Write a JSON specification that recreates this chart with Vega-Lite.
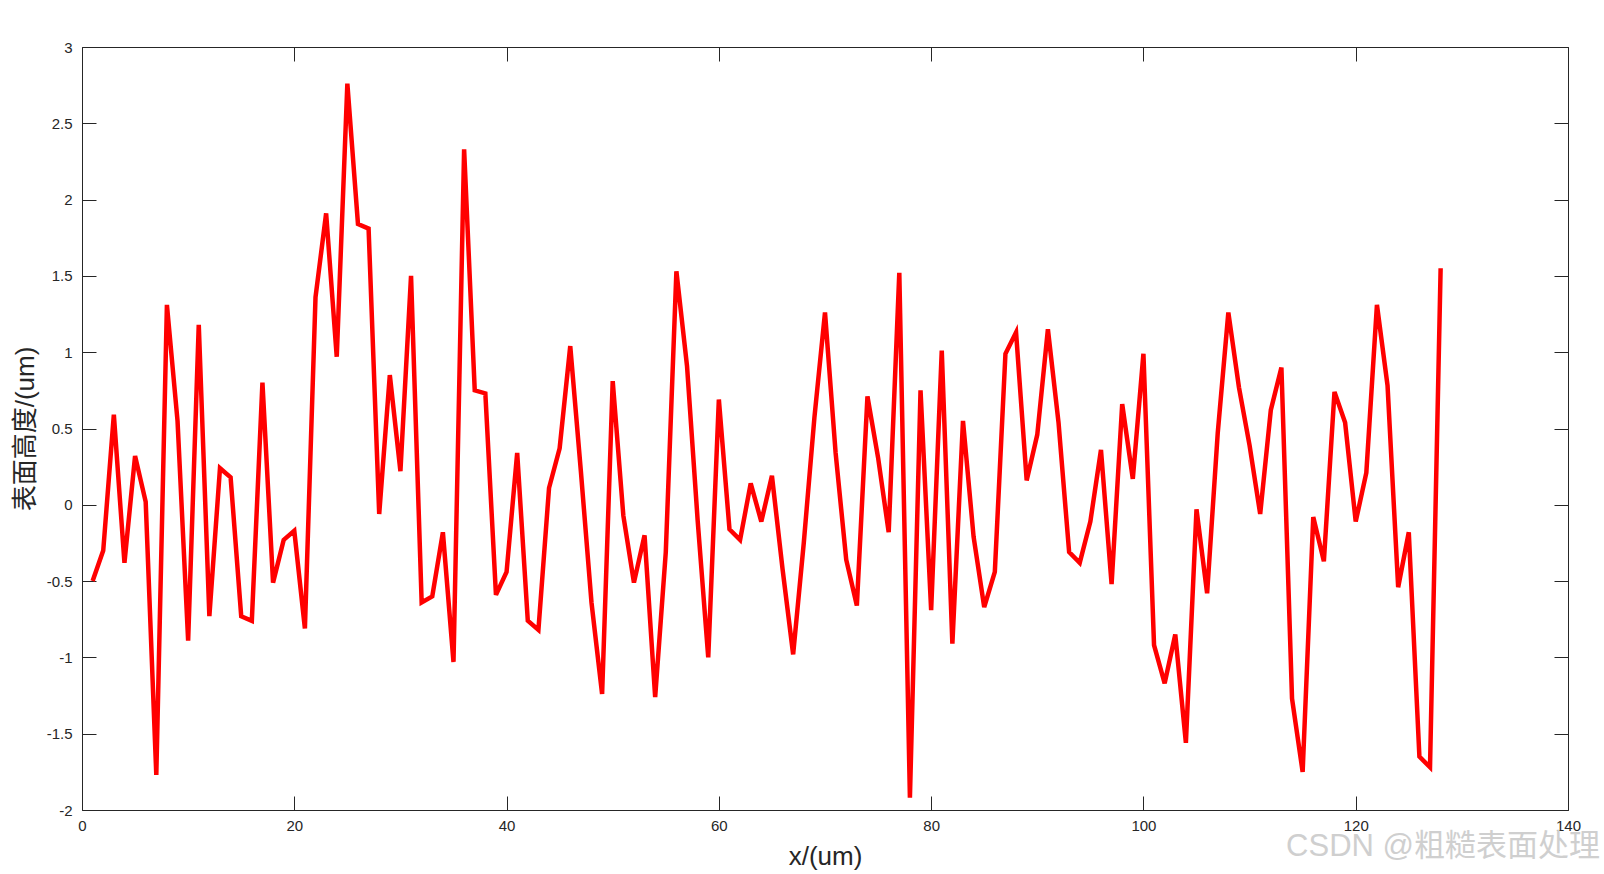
{
  "$schema": "https://vega.github.io/schema/vega-lite/v6.json",
  "autosize": {"type": "none"},
  "padding": {"left": 82, "top": 47, "right": 36, "bottom": 64},
  "width": 1486,
  "height": 763,
  "background": "white",
  "title": {
    "text": "CSDN @粗糙表面处理",
    "orient": "bottom",
    "anchor": "end",
    "frame": "group",
    "color": "#cfcfcf",
    "font": "Liberation Sans, Noto Sans CJK SC",
    "fontSize": 31,
    "fontWeight": "normal",
    "offset": 0,
    "dx": 32,
    "dy": -37
  },
  "config": {
    "view": {"stroke": "#262626", "strokeWidth": 1},
    "axis": {
      "domain": false,
      "grid": false,
      "tickColor": "#262626",
      "tickSize": -14,
      "tickWidth": 1,
      "labelColor": "#262626",
      "labelFont": "Liberation Sans",
      "labelFontSize": 15,
      "labelFlush": false,
      "titleFont": "Liberation Sans, Noto Sans CJK SC",
      "titleFontSize": 26,
      "titleFontWeight": "normal",
      "titleColor": "#262626"
    }
  },
  "data": {
    "values": [
      {"x": 1, "h": -0.50}, {"x": 2, "h": -0.30}, {"x": 3, "h": 0.59}, {"x": 4, "h": -0.38},
      {"x": 5, "h": 0.32}, {"x": 6, "h": 0.02}, {"x": 7, "h": -1.77}, {"x": 8, "h": 1.31},
      {"x": 9, "h": 0.55}, {"x": 10, "h": -0.89}, {"x": 11, "h": 1.18}, {"x": 12, "h": -0.73},
      {"x": 13, "h": 0.24}, {"x": 14, "h": 0.18}, {"x": 15, "h": -0.73}, {"x": 16, "h": -0.76},
      {"x": 17, "h": 0.80}, {"x": 18, "h": -0.51}, {"x": 19, "h": -0.23}, {"x": 20, "h": -0.17},
      {"x": 21, "h": -0.81}, {"x": 22, "h": 1.36}, {"x": 23, "h": 1.91}, {"x": 24, "h": 0.97},
      {"x": 25, "h": 2.76}, {"x": 26, "h": 1.84}, {"x": 27, "h": 1.81}, {"x": 28, "h": -0.06},
      {"x": 29, "h": 0.85}, {"x": 30, "h": 0.22}, {"x": 31, "h": 1.50}, {"x": 32, "h": -0.64},
      {"x": 33, "h": -0.60}, {"x": 34, "h": -0.18}, {"x": 35, "h": -1.03}, {"x": 36, "h": 2.33},
      {"x": 37, "h": 0.75}, {"x": 38, "h": 0.73}, {"x": 39, "h": -0.59}, {"x": 40, "h": -0.44},
      {"x": 41, "h": 0.34}, {"x": 42, "h": -0.76}, {"x": 43, "h": -0.82}, {"x": 44, "h": 0.11},
      {"x": 45, "h": 0.37}, {"x": 46, "h": 1.04}, {"x": 47, "h": 0.22}, {"x": 48, "h": -0.64},
      {"x": 49, "h": -1.24}, {"x": 50, "h": 0.81}, {"x": 51, "h": -0.07}, {"x": 52, "h": -0.51},
      {"x": 53, "h": -0.20}, {"x": 54, "h": -1.26}, {"x": 55, "h": -0.31}, {"x": 56, "h": 1.53},
      {"x": 57, "h": 0.91}, {"x": 58, "h": -0.10}, {"x": 59, "h": -1.00}, {"x": 60, "h": 0.69},
      {"x": 61, "h": -0.16}, {"x": 62, "h": -0.23}, {"x": 63, "h": 0.14}, {"x": 64, "h": -0.11},
      {"x": 65, "h": 0.19}, {"x": 66, "h": -0.42}, {"x": 67, "h": -0.98}, {"x": 68, "h": -0.25},
      {"x": 69, "h": 0.57}, {"x": 70, "h": 1.26}, {"x": 71, "h": 0.34}, {"x": 72, "h": -0.36},
      {"x": 73, "h": -0.66}, {"x": 74, "h": 0.71}, {"x": 75, "h": 0.31}, {"x": 76, "h": -0.18},
      {"x": 77, "h": 1.52}, {"x": 78, "h": -1.92}, {"x": 79, "h": 0.75}, {"x": 80, "h": -0.69},
      {"x": 81, "h": 1.01}, {"x": 82, "h": -0.91}, {"x": 83, "h": 0.55}, {"x": 84, "h": -0.21},
      {"x": 85, "h": -0.67}, {"x": 86, "h": -0.44}, {"x": 87, "h": 0.99}, {"x": 88, "h": 1.13},
      {"x": 89, "h": 0.16}, {"x": 90, "h": 0.46}, {"x": 91, "h": 1.15}, {"x": 92, "h": 0.54},
      {"x": 93, "h": -0.31}, {"x": 94, "h": -0.38}, {"x": 95, "h": -0.11}, {"x": 96, "h": 0.36},
      {"x": 97, "h": -0.52}, {"x": 98, "h": 0.66}, {"x": 99, "h": 0.17}, {"x": 100, "h": 0.99},
      {"x": 101, "h": -0.92}, {"x": 102, "h": -1.17}, {"x": 103, "h": -0.85}, {"x": 104, "h": -1.56},
      {"x": 105, "h": -0.03}, {"x": 106, "h": -0.58}, {"x": 107, "h": 0.47}, {"x": 108, "h": 1.26},
      {"x": 109, "h": 0.77}, {"x": 110, "h": 0.39}, {"x": 111, "h": -0.06}, {"x": 112, "h": 0.62},
      {"x": 113, "h": 0.90}, {"x": 114, "h": -1.27}, {"x": 115, "h": -1.75}, {"x": 116, "h": -0.08},
      {"x": 117, "h": -0.37}, {"x": 118, "h": 0.74}, {"x": 119, "h": 0.54}, {"x": 120, "h": -0.11},
      {"x": 121, "h": 0.21}, {"x": 122, "h": 1.31}, {"x": 123, "h": 0.78}, {"x": 124, "h": -0.54},
      {"x": 125, "h": -0.18}, {"x": 126, "h": -1.65}, {"x": 127, "h": -1.72}, {"x": 128, "h": 1.55}
    ]
  },
  "resolve": {"axis": {"x": "independent", "y": "independent"}},
  "layer": [
    {
      "mark": {"type": "line", "strokeOpacity": 0},
      "encoding": {
        "x": {
          "field": "x", "type": "quantitative",
          "scale": {"domain": [0, 140], "nice": false, "zero": false},
          "axis": {"orient": "top", "values": [0, 20, 40, 60, 80, 100, 120, 140], "labels": false, "title": null}
        },
        "y": {
          "field": "h", "type": "quantitative",
          "scale": {"domain": [-2, 3], "nice": false, "zero": false},
          "axis": {"orient": "right", "values": [-2, -1.5, -1, -0.5, 0, 0.5, 1, 1.5, 2, 2.5, 3], "labels": false, "title": null}
        }
      }
    },
    {
      "mark": {"type": "line", "color": "#ff0000", "strokeWidth": 4.5, "strokeJoin": "miter", "strokeMiterLimit": 4},
      "encoding": {
        "x": {
          "field": "x", "type": "quantitative",
          "scale": {"domain": [0, 140], "nice": false, "zero": false},
          "axis": {
            "orient": "bottom",
            "values": [0, 20, 40, 60, 80, 100, 120, 140],
            "labelPadding": 22,
            "labelExpr": "'' + datum.value",
            "title": "x/(um)",
            "titlePadding": 10
          }
        },
        "y": {
          "field": "h", "type": "quantitative",
          "scale": {"domain": [-2, 3], "nice": false, "zero": false},
          "axis": {
            "orient": "left",
            "values": [-2, -1.5, -1, -0.5, 0, 0.5, 1, 1.5, 2, 2.5, 3],
            "labelPadding": 24,
            "labelExpr": "'' + datum.value",
            "title": "表面高度/(um)",
            "titlePadding": 8
          }
        }
      }
    }
  ]
}
